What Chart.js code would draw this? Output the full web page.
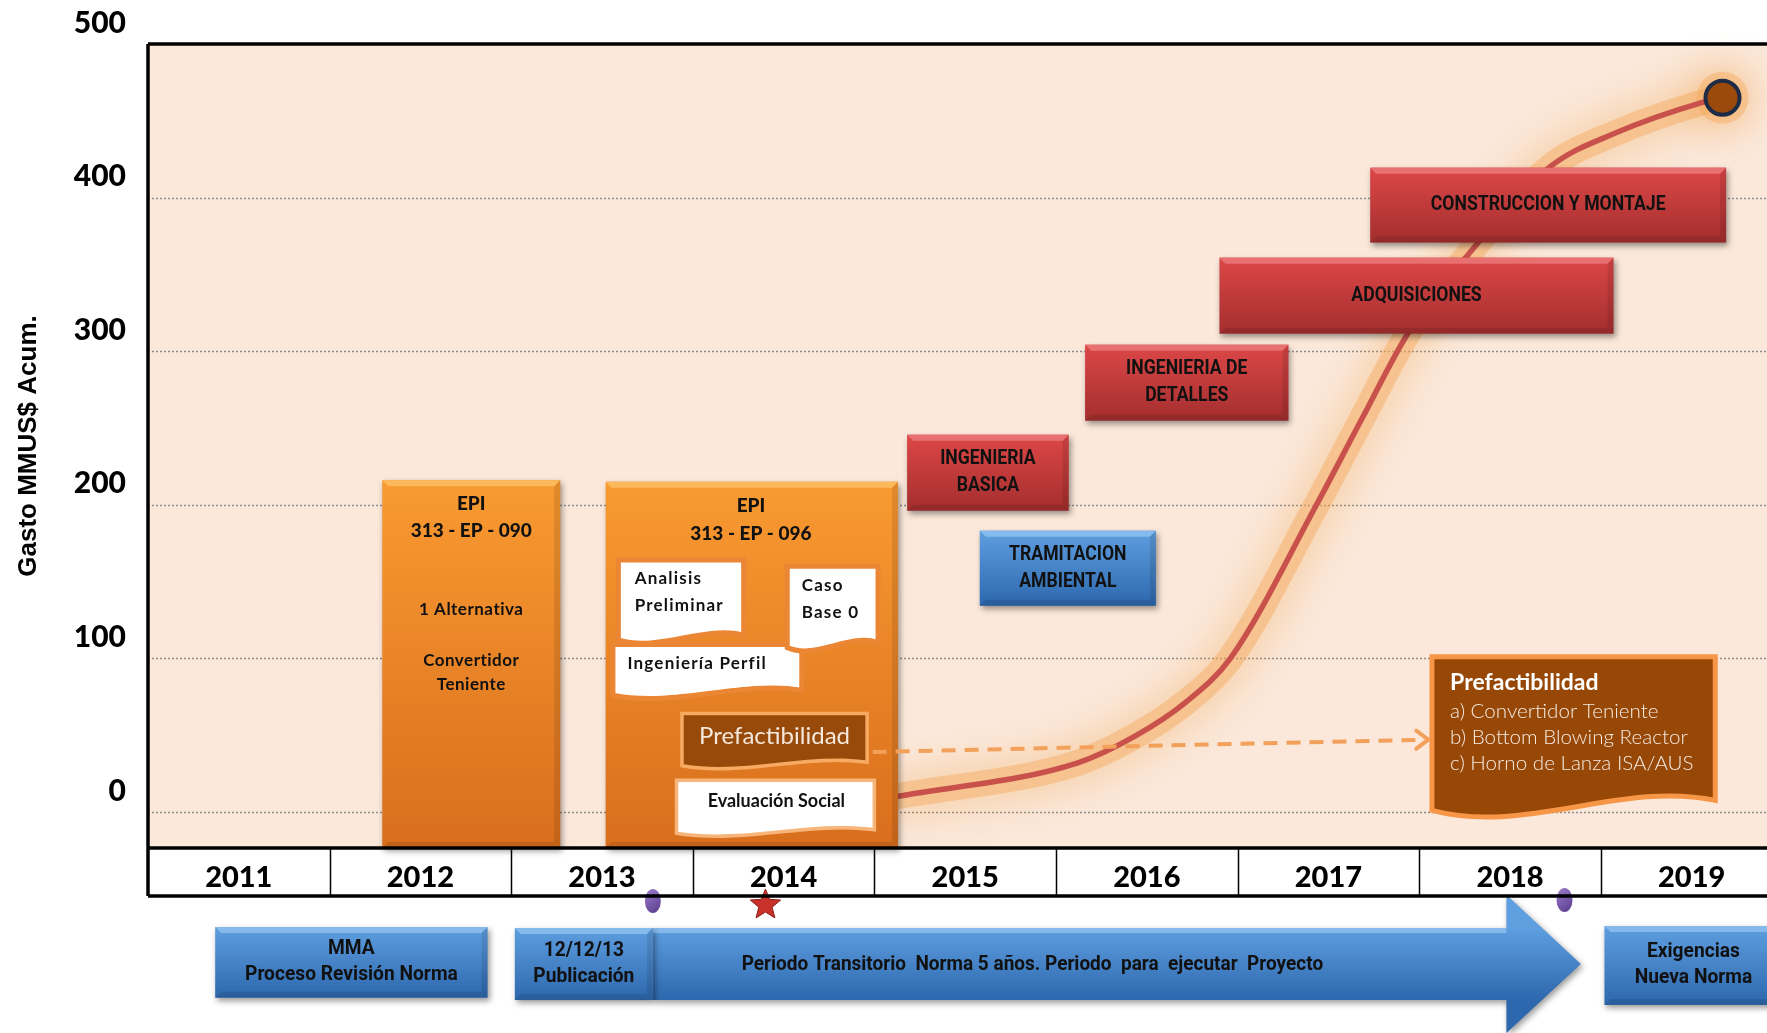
<!DOCTYPE html>
<html>
<head>
<meta charset="utf-8">
<script src="https://cdn.jsdelivr.net/npm/chart.js@4.4.0/dist/chart.umd.min.js"></script>
<style>
  html, body { margin: 0; padding: 0; background: #fff; }
  canvas { display: block; }
</style>
</head>
<body>
<canvas id="chart" width="1767" height="1033"></canvas>
<script>
// data
const years = [2011, 2012, 2013, 2014, 2015, 2016, 2017, 2018, 2019];
const yTicks = [0, 100, 200, 300, 400, 500];
const spendYear  = [2014.62, 2015.62, 2015.93, 2016.21, 2016.46, 2016.93, 2017.18, 2017.44, 2017.77, 2018.22, 2018.58, 2019.06, 2019.17];
const spendValue = [10, 32, 49, 71, 100, 199, 255, 312, 363, 420, 442, 462, 465];

// boxes placed in chart units (year, MMUS$)
const epiBoxes = [
  {x: [2011.79, 2012.77], y: [216, -23.5], cx: 2012.28,
   lines: [['EPI', 200.7, 'b'], ['313 - EP - 090', 183, 'b'], ['1 Alternativa', 131.6, 's'], ['Convertidor', 98.4, 's'], ['Teniente', 82.7, 's']]},
  {x: [2013.02, 2014.63], y: [215, -23.5], cx: 2013.82,
   lines: [['EPI', 199.3, 'b'], ['313 - EP - 096', 181, 'b']]}
];
const whiteDocs = [
  {x: [2013.09, 2013.78], y: [164, 112], tx: 2013.18, lines: [['Analisis', 151.8], ['Preliminar', 134.2]]},
  {x: [2013.06, 2014.10], y: [109, 76], tx: 2013.14, lines: [['Ingeniería Perfil', 96.4]]},
  {x: [2014.02, 2014.52], y: [160, 107], tx: 2014.10, lines: [['Caso', 147.2], ['Base 0', 129.6]]}
];
const phaseBoxes = [
  {x: [2014.68, 2015.57], y: [245.6, 196.1], kind: 'red',  lines: ['INGENIERIA', 'BASICA']},
  {x: [2015.08, 2016.05], y: [183.1, 134.2], kind: 'blue', lines: ['TRAMITACION', 'AMBIENTAL']},
  {x: [2015.66, 2016.78], y: [304.2, 254.7], kind: 'red',  lines: ['INGENIERIA DE', 'DETALLES']},
  {x: [2016.40, 2018.57], y: [360.9, 311.4], kind: 'red',  lines: ['ADQUISICIONES']},
  {x: [2017.23, 2019.19], y: [419.5, 370.7], kind: 'red',  lines: ['CONSTRUCCION Y MONTAJE']}
];
const calloutLines = ['a) Convertidor Teniente', 'b) Bottom Blowing Reactor', 'c) Horno de Lanza ISA/AUS'];
const timelineBoxes = [
  {x: [2010.87, 2012.37], y: [-75, -121], lines: ['MMA', 'Proceso Revisión Norma']},
  {x: [2012.52, 2013.28], y: [-75.6, -122.5], lines: ['12/12/13', 'Publicación']},
  {x: [2018.52, 2019.70], y: [-74.3, -125.7], lines: ['Exigencias', 'Nueva Norma']}
];

const colors = {
  red: ['#DD4747', '#A42E2E', '#E87070'],
  blue: ['#5E9FE0', '#2D67AD', '#86B9EC'],
  orange: ['#F99A31', '#D86E1D', '#FCB95C']
};

function txt(ctx, s, x, y, font, color, align, sx, spacing) {
  ctx.save();
  ctx.font = font;
  ctx.fillStyle = color;
  ctx.textAlign = align || 'center';
  ctx.textBaseline = 'middle';
  if (spacing) ctx.letterSpacing = spacing;
  ctx.translate(x, y);
  ctx.scale(sx || 1, 1);
  ctx.fillText(s, 0, 0);
  ctx.restore();
}

function bevelBox(ctx, l, t, r, b, c) {
  ctx.save();
  ctx.shadowColor = 'rgba(0,0,0,0.4)';
  ctx.shadowBlur = 6;
  ctx.shadowOffsetX = 2;
  ctx.shadowOffsetY = 3;
  const g = ctx.createLinearGradient(0, t, 0, b);
  g.addColorStop(0, c[0]);
  g.addColorStop(1, c[1]);
  ctx.fillStyle = g;
  ctx.fillRect(l, t, r - l, b - t);
  ctx.restore();
  const h = 6;
  ctx.save();
  ctx.fillStyle = c[2];
  ctx.beginPath();
  ctx.moveTo(l, t); ctx.lineTo(r, t); ctx.lineTo(r - h, t + h); ctx.lineTo(l + h, t + h);
  ctx.closePath(); ctx.fill();
  ctx.fillStyle = 'rgba(0,0,0,0.10)';
  ctx.beginPath();
  ctx.moveTo(r, t); ctx.lineTo(r, b); ctx.lineTo(r - h, b - h); ctx.lineTo(r - h, t + h);
  ctx.closePath(); ctx.fill();
  ctx.beginPath();
  ctx.moveTo(l, b); ctx.lineTo(r, b); ctx.lineTo(r - h, b - h); ctx.lineTo(l + h, b - h);
  ctx.closePath(); ctx.fill();
  ctx.restore();
}

function docPath(ctx, l, t, r, b, a) {
  const w = r - l;
  ctx.beginPath();
  ctx.moveTo(l, t);
  ctx.lineTo(r, t);
  ctx.lineTo(r, b - a);
  ctx.bezierCurveTo(l + w * 0.67, b - 3 * a, l + w * 0.33, b + 2.5 * a, l, b);
  ctx.closePath();
}

const pts = spendYear.map((x, i) => ({x, y: spendValue[i]}));
const lastIdx = pts.length - 1;

const drawPlugin = {
  id: 'drawPlugin',
  beforeDraw(chart) {
    const {ctx, chartArea: a} = chart;
    ctx.save();
    ctx.fillStyle = '#FBE8DA';
    ctx.fillRect(a.left, a.top, a.right - a.left, a.bottom - a.top);
    ctx.restore();
  },
  beforeDatasetsDraw(chart) {
    const {ctx, chartArea: a, scales: {y}} = chart;
    ctx.save();
    ctx.strokeStyle = '#8c8c8c';
    ctx.lineWidth = 1.5;
    ctx.setLineDash([2, 2]);
    y.ticks.forEach(t => {
      if (t.value >= 500) return;
      const py = Math.round(y.getPixelForValue(t.value)) + 0.5;
      ctx.beginPath(); ctx.moveTo(a.left, py); ctx.lineTo(a.right, py); ctx.stroke();
    });
    ctx.restore();
  },
  // soft orange glow under the spending curve (dataset 1 is drawn first)
  beforeDatasetDraw(chart, args) {
    if (args.index === 1) {
      chart.ctx.save();
      chart.ctx.shadowColor = 'rgba(240,150,50,1)';
      chart.ctx.shadowBlur = 40;
    }
  },
  afterDatasetDraw(chart, args) {
    if (args.index === 1) chart.ctx.restore();
  },
  afterDatasetsDraw(chart) {
    const {ctx, scales: {x, y}} = chart;
    const X = v => x.getPixelForValue(v);
    const Y = v => y.getPixelForValue(v);
    const bold = '900 19px Lato';
    const semi = 'bold 17px Lato';

    // EPI orange bars
    epiBoxes.forEach(b => {
      bevelBox(ctx, X(b.x[0]), Y(b.y[0]), X(b.x[1]), Y(b.y[1]), colors.orange);
      b.lines.forEach(([s, v, w]) => txt(ctx, s, X(b.cx), Y(v), w === 'b' ? bold : semi, '#111', 'center', 1, w === 'b' ? '0px' : '0.5px'));
    });

    // white documents inside EPI 096
    whiteDocs.forEach(d => {
      ctx.save();
      docPath(ctx, X(d.x[0]), Y(d.y[0]), X(d.x[1]), Y(d.y[1]), 5);
      ctx.fillStyle = '#fff';
      ctx.fill();
      ctx.lineWidth = 5;
      ctx.strokeStyle = '#EB8634';
      ctx.stroke();
      ctx.restore();
      d.lines.forEach(([s, v]) => txt(ctx, s, X(d.tx), Y(v), 'bold 17px Lato', '#111', 'left', 1, '1.2px'));
    });

    // Prefactibilidad (inside EPI)
    ctx.save();
    docPath(ctx, X(2013.45), Y(63), X(2014.45), Y(31), 4);
    ctx.fillStyle = '#984A0A';
    ctx.lineWidth = 7;
    ctx.strokeStyle = '#F7AA62';
    ctx.stroke();
    ctx.fill();
    ctx.restore();
    txt(ctx, 'Prefactibilidad', X(2013.95), Y(49), '24px Lato', '#F4E8DC');

    // Evaluacion Social
    ctx.save();
    docPath(ctx, X(2013.42), Y(19.5), X(2014.49), Y(-13), 4);
    ctx.fillStyle = '#fff';
    ctx.lineWidth = 7;
    ctx.strokeStyle = '#F7B57A';
    ctx.stroke();
    ctx.fill();
    ctx.restore();
    txt(ctx, 'Evaluación Social', X(2013.96), Y(7), 'bold 18px Lato', '#111');

    // phase boxes
    phaseBoxes.forEach(b => {
      const l = X(b.x[0]), r = X(b.x[1]), t = Y(b.y[0]), bt = Y(b.y[1]);
      bevelBox(ctx, l, t, r, bt, colors[b.kind]);
      const cy = (t + bt) / 2, n = b.lines.length;
      b.lines.forEach((s, i) => txt(ctx, s, (l + r) / 2, cy + (i - (n - 1) / 2) * 27, 'bold 21px Roboto', '#111', 'center', 0.84));
    });

    // dashed arrow to callout
    const ax0 = X(2014.49), ay0 = Y(39), ax1 = X(2017.55), ay1 = Y(47);
    ctx.save();
    ctx.strokeStyle = '#F2A05A';
    ctx.lineWidth = 4;
    ctx.setLineDash([14, 9]);
    ctx.beginPath(); ctx.moveTo(ax0, ay0); ctx.lineTo(ax1 - 4, ay1); ctx.stroke();
    ctx.setLineDash([]);
    ctx.lineCap = 'round';
    ctx.beginPath(); ctx.moveTo(ax1 - 12, ay1 - 9); ctx.lineTo(ax1, ay1); ctx.lineTo(ax1 - 12, ay1 + 9); ctx.stroke();
    ctx.restore();

    // Prefactibilidad callout
    const cl = X(2017.57), cr = X(2019.13), ct = Y(101), cb = Y(1);
    ctx.save();
    docPath(ctx, cl, ct, cr, cb, 10);
    ctx.fillStyle = '#974706';
    ctx.fill();
    ctx.lineWidth = 5;
    ctx.strokeStyle = '#F79646';
    ctx.stroke();
    ctx.restore();
    txt(ctx, 'Prefactibilidad', X(2017.67), Y(84), 'bold 23px Lato', '#fff', 'left');
    [65.1, 48.2, 31.3].forEach((v, i) => txt(ctx, calloutLines[i], X(2017.67), Y(v), '300 20px Lato', '#F4ECE4', 'left', 1.03));

    // bottom timeline
    const sl = X(2013.28), sr = X(2017.98), st = Y(-75.6), sb = Y(-122.5);
    const ht = Y(-54), hb = Y(-144), tip = X(2018.39), mid = (st + sb) / 2;
    ctx.save();
    ctx.shadowColor = 'rgba(0,0,0,0.4)';
    ctx.shadowBlur = 6;
    ctx.shadowOffsetX = 2;
    ctx.shadowOffsetY = 3;
    const g = ctx.createLinearGradient(0, st, 0, sb);
    g.addColorStop(0, colors.blue[0]);
    g.addColorStop(1, colors.blue[1]);
    ctx.fillStyle = g;
    ctx.beginPath();
    ctx.moveTo(sl, st); ctx.lineTo(sr, st); ctx.lineTo(sr, ht); ctx.lineTo(tip, mid);
    ctx.lineTo(sr, hb); ctx.lineTo(sr, sb); ctx.lineTo(sl, sb);
    ctx.closePath(); ctx.fill();
    ctx.restore();
    ctx.save();
    ctx.fillStyle = colors.blue[2];
    ctx.fillRect(sl, st, sr - sl, 5);
    ctx.restore();
    txt(ctx, 'Periodo Transitorio  Norma 5 años. Periodo  para  ejecutar  Proyecto', X(2015.37), Y(-99.5), 'bold 20px Roboto', '#111', 'center', 0.95);

    timelineBoxes.forEach(b => {
      const l = X(b.x[0]), r = X(b.x[1]), t = Y(b.y[0]), bt = Y(b.y[1]);
      bevelBox(ctx, l, t, r, bt, colors.blue);
      const cx = b.x[1] > 2019.4 ? X(2019.01) : (l + r) / 2;
      const cy = (t + bt) / 2;
      b.lines.forEach((s, i) => txt(ctx, s, cx, cy + (i - 0.5) * 26, 'bold 20px Roboto', '#111', 'center', 0.96));
    });

    // purple milestones and star
    [[2013.28, -58], [2018.30, -57.3]].forEach(([mx, my]) => {
      const px = X(mx), py = Y(my);
      ctx.save();
      const pg = ctx.createLinearGradient(px - 8, py - 11, px + 8, py + 11);
      pg.addColorStop(0, '#9B7CCB');
      pg.addColorStop(1, '#5B3C8C');
      ctx.fillStyle = pg;
      ctx.beginPath(); ctx.ellipse(px, py, 8, 12, 0, 0, Math.PI * 2); ctx.fill();
      ctx.restore();
    });
    const sx = X(2013.90), sy = Y(-60.6);
    ctx.save();
    ctx.fillStyle = '#C8322B';
    ctx.strokeStyle = '#8E1E1A';
    ctx.lineWidth = 1;
    ctx.beginPath();
    for (let i = 0; i < 10; i++) {
      const r = i % 2 === 0 ? 16 : 7;
      const ang = -Math.PI / 2 + i * Math.PI / 5;
      const px = sx + r * Math.cos(ang), py = sy + r * Math.sin(ang);
      i === 0 ? ctx.moveTo(px, py) : ctx.lineTo(px, py);
    }
    ctx.closePath(); ctx.fill(); ctx.stroke();
    ctx.restore();
  },
  afterDraw(chart) {
    const {ctx, chartArea: a, scales: {x}} = chart;
    ctx.save();
    ctx.strokeStyle = '#000';
    ctx.lineWidth = 3.5;
    ctx.beginPath();
    ctx.moveTo(a.left, a.top); ctx.lineTo(a.right, a.top);
    ctx.moveTo(a.left, a.top); ctx.lineTo(a.left, x.bottom);
    ctx.moveTo(a.left, a.bottom); ctx.lineTo(a.right, a.bottom);
    ctx.moveTo(a.left, x.bottom); ctx.lineTo(a.right, x.bottom);
    ctx.stroke();
    ctx.lineWidth = 1.5;
    ctx.beginPath();
    years.slice(0, -1).forEach(yr => {
      const px = Math.round(x.getPixelForValue(yr + 0.5)) + 0.5;
      ctx.moveTo(px, a.bottom); ctx.lineTo(px, x.bottom);
    });
    ctx.stroke();
    ctx.restore();
  }
};

new Chart(document.getElementById('chart'), {
  type: 'line',
  data: {
    datasets: [
      {
        data: pts,
        borderColor: '#C9514C',
        borderWidth: 5.5,
        borderCapStyle: 'round',
        cubicInterpolationMode: 'monotone',
        pointRadius: c => c.dataIndex === lastIdx ? 17 : 0,
        pointBackgroundColor: '#9C4A0C',
        pointBorderColor: '#1F2C47',
        pointBorderWidth: 4,
        clip: false
      },
      {
        data: pts,
        borderColor: 'rgba(243,170,95,0.45)',
        borderWidth: 26,
        borderCapStyle: 'round',
        borderJoinStyle: 'round',
        cubicInterpolationMode: 'monotone',
        pointRadius: c => c.dataIndex === lastIdx ? 26 : 0,
        pointBackgroundColor: 'rgba(243,170,95,0.45)',
        pointBorderWidth: 0,
        clip: false
      }
    ]
  },
  options: {
    responsive: false,
    animation: false,
    layout: { autoPadding: false, padding: { top: 44, bottom: 137, left: 0, right: 0 } },
    plugins: { legend: { display: false }, tooltip: { enabled: false } },
    scales: {
      x: {
        type: 'linear',
        min: 2010.5,
        max: 2019.415,
        afterBuildTicks: s => { s.ticks = years.map(v => ({value: v})); },
        afterFit: s => { s.height = 48; s.paddingLeft = 0; s.paddingRight = 0; },
        grid: { display: false },
        border: { display: false },
        ticks: {
          callback: v => String(v),
          color: '#000',
          font: { family: 'Lato', weight: '900', size: 29 },
          padding: 4,
          maxRotation: 0,
          autoSkip: false
        }
      },
      y: {
        min: -23.5,
        max: 500,
        afterBuildTicks: s => { s.ticks = yTicks.map(v => ({value: v})); },
        afterFit: s => { s.width = 148; s.paddingTop = 0; s.paddingBottom = 0; },
        grid: { display: false },
        border: { display: false },
        ticks: {
          color: '#000',
          font: { family: 'Lato', weight: '900', size: 30 },
          padding: 14,
          labelOffset: -21
        },
        title: {
          display: true,
          text: 'Gasto MMUS$ Acum.',
          color: '#000',
          font: { family: 'Liberation Sans', weight: 'bold', size: 26 },
          padding: { top: 13, bottom: 0 }
        }
      }
    }
  },
  plugins: [drawPlugin]
});
</script>
</body>
</html>
